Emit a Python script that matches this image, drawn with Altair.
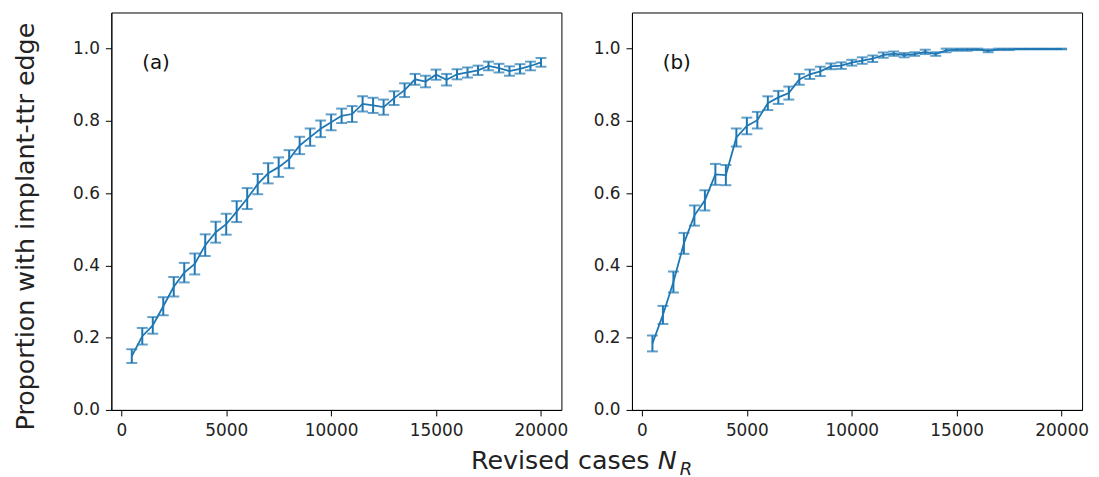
import altair as alt
import pandas as pd

BLUE = "#1f77b4"
FONT = "DejaVu Sans"

n_values = list(range(500, 20001, 500))

a_mean = [0.149, 0.204, 0.234, 0.287, 0.341, 0.380, 0.404, 0.456, 0.492, 0.514,
          0.549, 0.585, 0.625, 0.655, 0.672, 0.694, 0.732, 0.755, 0.778, 0.796,
          0.814, 0.819, 0.847, 0.843, 0.838, 0.863, 0.885, 0.915, 0.909, 0.928,
          0.914, 0.929, 0.934, 0.940, 0.952, 0.946, 0.938, 0.944, 0.952, 0.962]
a_err = [0.019, 0.023, 0.023, 0.025, 0.027, 0.027, 0.029, 0.030, 0.029, 0.029,
         0.029, 0.029, 0.028, 0.028, 0.027, 0.025, 0.024, 0.024, 0.023, 0.022,
         0.020, 0.022, 0.021, 0.021, 0.021, 0.019, 0.019, 0.015, 0.016, 0.014,
         0.016, 0.014, 0.014, 0.013, 0.012, 0.012, 0.013, 0.013, 0.012, 0.012]

b_mean = [0.184, 0.263, 0.354, 0.461, 0.538, 0.580, 0.652, 0.650, 0.754, 0.786,
          0.802, 0.849, 0.865, 0.877, 0.915, 0.929, 0.937, 0.951, 0.953, 0.961,
          0.967, 0.972, 0.982, 0.986, 0.982, 0.985, 0.991, 0.985, 0.995, 0.997,
          0.997, 0.998, 0.994, 0.998, 0.998, 0.999, 0.999, 0.999, 0.999, 0.999]
b_err = [0.022, 0.025, 0.029, 0.029, 0.028, 0.028, 0.029, 0.028, 0.025, 0.023,
         0.023, 0.019, 0.018, 0.018, 0.015, 0.013, 0.013, 0.008, 0.009, 0.008,
         0.009, 0.009, 0.007, 0.006, 0.006, 0.005, 0.006, 0.005, 0.005, 0.003,
         0.003, 0.002, 0.004, 0.002, 0.002, 0.001, 0.001, 0.001, 0.001, 0.001]

x_ticks = [0, 5000, 10000, 15000, 20000]
y_ticks = [0.0, 0.2, 0.4, 0.6, 0.8, 1.0]
x_domain = [-475, 20975]
y_domain = [0.0, 1.1]

y_title = "Proportion with implant-ttr edge"
x_title_main = "Revised cases"

W, H = 453, 400


def panel(mean, err, label, with_title):
    df = pd.DataFrame({
        "n": n_values,
        "m": mean,
        "lo": [m - e for m, e in zip(mean, err)],
        "hi": [m + e for m, e in zip(mean, err)],
    })
    xs = alt.Scale(domain=x_domain, nice=False, zero=False)
    ys = alt.Scale(domain=y_domain, nice=False, zero=False)
    yaxis_kw = dict(values=y_ticks, format=".1f", labelPadding=6)
    if with_title:
        yaxis = alt.Axis(title=y_title, titleFontSize=25.5, titleFontWeight="normal",
                         titleColor="#222", titleX=-73, titleY=215, titleBaseline="bottom",
                         titleAngle=270, titleAlign="center", **yaxis_kw)
    else:
        yaxis = alt.Axis(title=None, **yaxis_kw)
    xaxis = alt.Axis(title=None, values=x_ticks, format="d", labelPadding=7, labelFlush=False)

    base = alt.Chart(df)
    line = base.mark_line(color=BLUE, strokeWidth=1.8).encode(
        x=alt.X("n:Q", scale=xs, axis=xaxis),
        y=alt.Y("m:Q", scale=ys, axis=yaxis),
    )
    bars = base.mark_rule(color=BLUE, strokeWidth=2).encode(
        x=alt.X("n:Q", scale=xs), y=alt.Y("lo:Q", scale=ys), y2="hi:Q"
    )
    cap_lo = base.mark_tick(color=BLUE, orient="horizontal", size=11, thickness=2).encode(
        x=alt.X("n:Q", scale=xs), y=alt.Y("lo:Q", scale=ys)
    )
    cap_hi = base.mark_tick(color=BLUE, orient="horizontal", size=11, thickness=2).encode(
        x=alt.X("n:Q", scale=xs), y=alt.Y("hi:Q", scale=ys)
    )
    lab = alt.Chart(pd.DataFrame({"t": [label]})).mark_text(
        align="left", baseline="alphabetic", fontSize=20, font=FONT, color="#111"
    ).encode(x=alt.value(31), y=alt.value(57), text="t:N")
    layers = [line, bars, cap_lo, cap_hi, lab]
    if with_title:
        t1 = alt.Chart(pd.DataFrame({"t": [x_title_main]})).mark_text(
            align="left", baseline="alphabetic", fontSize=25.5, font=FONT, color="#222"
        ).encode(x=alt.value(362), y=alt.value(459), text="t:N")
        t2 = alt.Chart(pd.DataFrame({"t": ["N"]})).mark_text(
            align="left", baseline="alphabetic", fontSize=25.5, font=FONT, fontStyle="italic",
            color="#222"
        ).encode(x=alt.value(550), y=alt.value(459), text="t:N")
        t3 = alt.Chart(pd.DataFrame({"t": ["R"]})).mark_text(
            align="left", baseline="alphabetic", fontSize=18, font=FONT, fontStyle="italic",
            color="#222"
        ).encode(x=alt.value(572), y=alt.value(465), text="t:N")
        layers += [t1, t2, t3]
    return alt.layer(*layers).properties(width=W, height=H)


left = panel(a_mean, a_err, "(a)", True)
right = panel(b_mean, b_err, "(b)", False)

chart = alt.hconcat(left, right, spacing=71, bounds="flush").properties(
    padding={"left": 5, "top": 2, "right": 2, "bottom": 0}
).configure(font=FONT).configure_view(
    stroke="black", strokeWidth=1
).configure_axis(
    grid=False, domainColor="black", domainWidth=1, tickColor="black", tickWidth=1,
    tickSize=6, labelFontSize=17, labelColor="#222", labelFont=FONT, titleFont=FONT
)

chart.save("out.html", embed_options={"renderer": "svg", "actions": False})
